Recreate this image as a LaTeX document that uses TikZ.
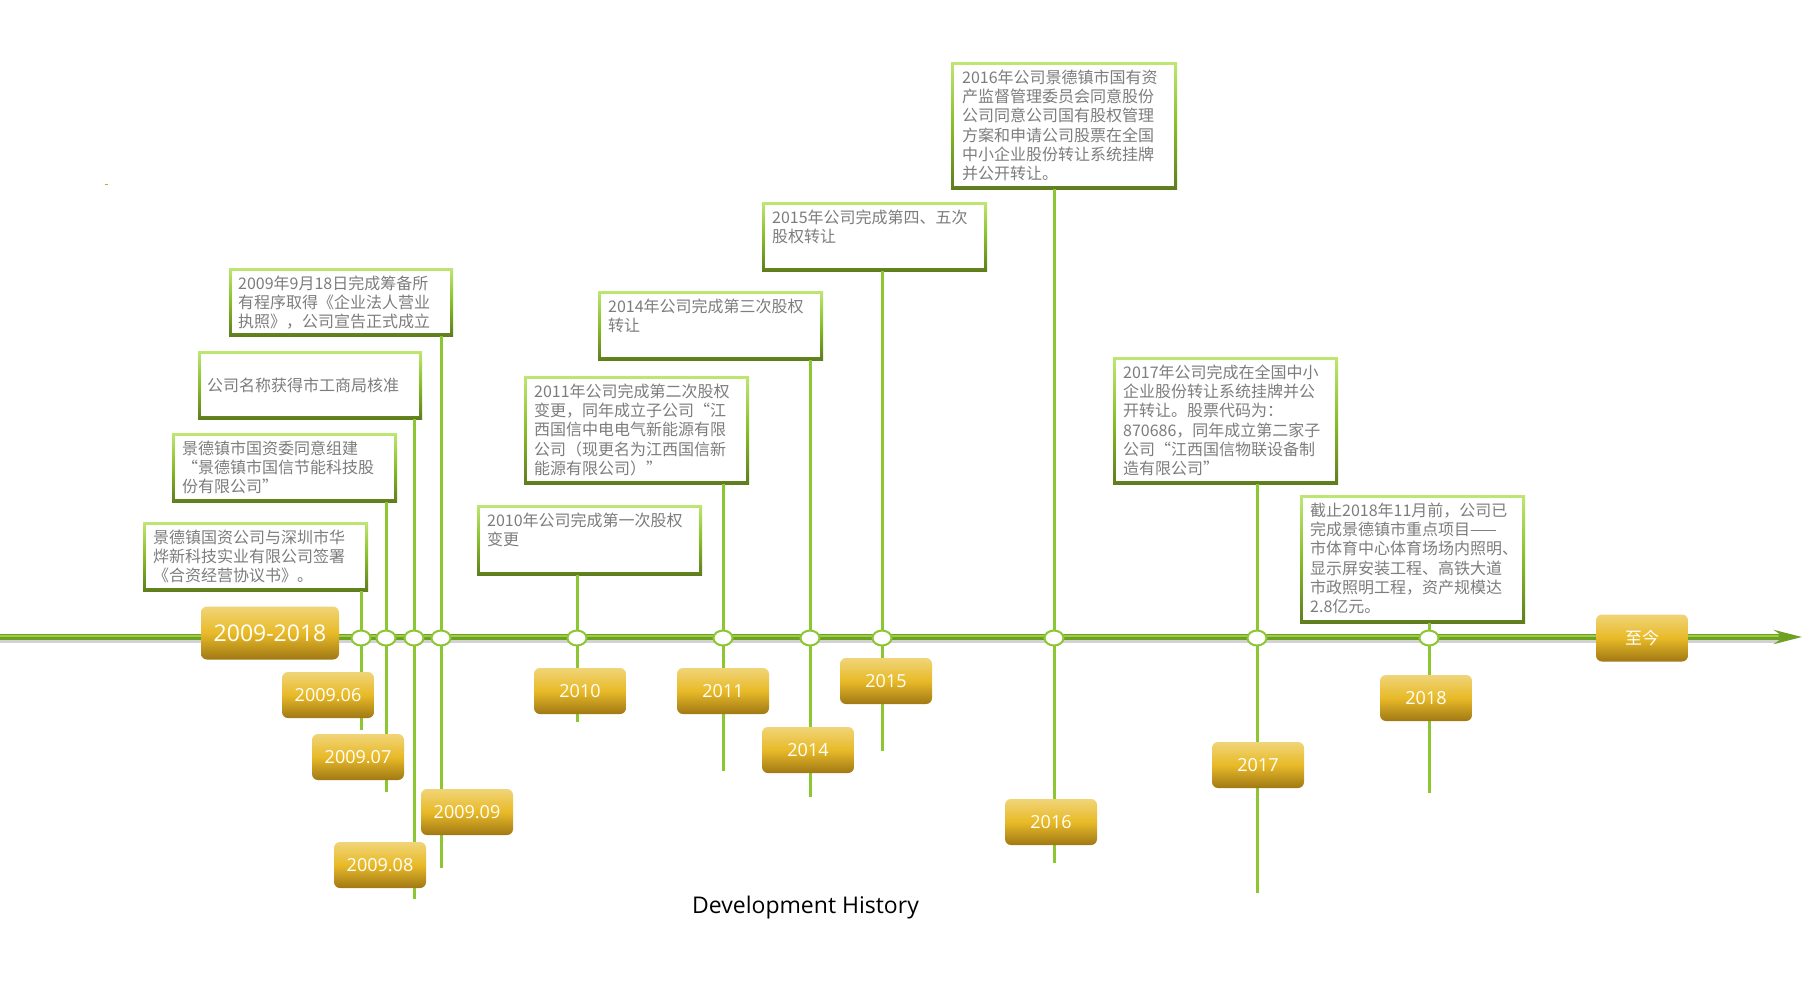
\documentclass[tikz,border=0pt]{standalone}
\usepackage{fontspec}
\setmainfont{Open Sans}
\newfontfamily\cjk{Noto Sans CJK SC}
\usetikzlibrary{arrows.meta,shapes.geometric}
\definecolor{bxtop}{RGB}{190,230,115}
\definecolor{bxmid}{RGB}{135,190,40}
\definecolor{bxbot}{RGB}{95,125,30}
\definecolor{vline}{RGB}{140,198,50}
\definecolor{txtgray}{RGB}{125,125,125}
\definecolor{gtop}{RGB}{240,212,120}
\definecolor{gmid}{RGB}{232,186,40}
\definecolor{gbot}{RGB}{160,120,20}
\definecolor{axdark}{RGB}{110,160,35}
\definecolor{axlight}{RGB}{155,205,70}
\begin{document}
\begin{tikzpicture}[x=1pt,y=-1pt,
  evbox/.style={rectangle, inner sep=0pt, anchor=north west, minimum width=225pt, minimum height=69pt,
    top color=bxtop, bottom color=bxbot, middle color=bxmid,
    path picture={\fill[white] ([shift={(3pt,3pt)}]path picture bounding box.south west) rectangle ([shift={(-3pt,-3pt)}]path picture bounding box.north east);}},
  evtxt/.style={inner sep=0pt, anchor=north west, align=left, text=txtgray, font=\cjk\fontsize{16}{19.3}\selectfont},
  yl/.style={rectangle, rounded corners=6pt, minimum width=92pt, minimum height=46pt, inner sep=0pt,
    top color=gtop, bottom color=gbot, middle color=gmid, text=white, font=\fontsize{18}{20}\selectfont},
  dot/.style={ellipse, draw=vline, line width=2pt, fill=white, minimum width=19pt, minimum height=15pt, inner sep=0pt},
  vl/.style={draw=vline, line width=3pt},
]
\fill[white] (0,0) rectangle (1802,1002);
\useasboundingbox (0,0) rectangle (1802,1002);

% stray mark
\draw[vline, line width=1pt] (105,184) -- (108,184);

% event boxes
\node[evbox, minimum width=224pt, minimum height=68pt] (bA) at (229,268) {};
\node[evtxt] (tA) at ([shift={(9,7.5)}]bA.north west) {2009年9月18日完成筹备所\\有程序取得《企业法人营业\\执照》，公司宣告正式成立};
\node[evbox, minimum width=224pt, minimum height=68pt] (bB) at (198,351) {};
\node[evtxt, anchor=west] (tB) at ([shift={(9,0)}]bB.west) {公司名称获得市工商局核准};
\node[evbox] (bC) at (172,433) {};
\node[evtxt] (tC) at ([shift={(10,7.5)}]bC.north west) {景德镇市国资委同意组建\\“景德镇市国信节能科技股\\份有限公司”};
\node[evbox] (bD) at (143,522) {};
\node[evtxt] (tD) at ([shift={(10,7.5)}]bD.north west) {景德镇国资公司与深圳市华\\烨新科技实业有限公司签署\\《合资经营协议书》。};
\node[evbox, minimum height=70pt] (b10) at (477,505) {};
\node[evtxt] (t10) at ([shift={(10,7.5)}]b10.north west) {2010年公司完成第一次股权\\变更};
\node[evbox, minimum height=108pt] (b11) at (524,376) {};
\node[evtxt] (t11) at ([shift={(10,7.5)}]b11.north west) {2011年公司完成第二次股权\\变更，同年成立子公司“江\\西国信中电电气新能源有限\\公司（现更名为江西国信新\\能源有限公司）”};
\node[evbox] (b14) at (598,291) {};
\node[evtxt] (t14) at ([shift={(10,7.5)}]b14.north west) {2014年公司完成第三次股权\\转让};
\node[evbox] (b15) at (762,202) {};
\node[evtxt] (t15) at ([shift={(10,7.5)}]b15.north west) {2015年公司完成第四、五次\\股权转让};
\node[evbox, minimum width=226pt, minimum height=127pt] (b16) at (951,62) {};
\node[evtxt] (t16) at ([shift={(11,7.5)}]b16.north west) {2016年公司景德镇市国有资\\产监督管理委员会同意股份\\公司同意公司国有股权管理\\方案和申请公司股票在全国\\中小企业股份转让系统挂牌\\并公开转让。};
\node[evbox, minimum height=127pt] (b17) at (1113,357) {};
\node[evtxt] (t17) at ([shift={(10,7.5)}]b17.north west) {2017年公司完成在全国中小\\企业股份转让系统挂牌并公\\开转让。股票代码为：\\870686，同年成立第二家子\\公司“江西国信物联设备制\\造有限公司”};
\node[evbox, minimum height=128pt] (b18) at (1300,495) {};
\node[evtxt] (t18) at ([shift={(10,7.5)}]b18.north west) {截止2018年11月前，公司已\\完成景德镇市重点项目——\\市体育中心体育场场内照明、\\显示屏安装工程、高铁大道\\市政照明工程，资产规模达\\2.8亿元。};

% positions on the axis
\coordinate (p1) at (361,638);  \coordinate (e1) at (361,730);
\coordinate (p2) at (386,638);  \coordinate (e2) at (386,792);
\coordinate (p3) at (414,638);  \coordinate (e3) at (414,899);
\coordinate (p4) at (441,638);  \coordinate (e4) at (441,868);
\coordinate (p5) at (577,638);  \coordinate (e5) at (577,722);
\coordinate (p6) at (723,638);  \coordinate (e6) at (723,771);
\coordinate (p7) at (810,638);  \coordinate (e7) at (810,797);
\coordinate (p8) at (882,638);  \coordinate (e8) at (882,751);
\coordinate (p9) at (1054,638); \coordinate (e9) at (1054,863);
\coordinate (p10) at (1257,638); \coordinate (e10) at (1257,893);
\coordinate (p11) at (1429,638); \coordinate (e11) at (1429,793);

% vertical connectors
\draw[vl] (bD.south -| p1) -- (e1);
\draw[vl] (bC.south -| p2) -- (e2);
\draw[vl] (bB.south -| p3) -- (e3);
\draw[vl] (bA.south -| p4) -- (e4);
\draw[vl] (b10.south -| p5) -- (e5);
\draw[vl] (b11.south -| p6) -- (e6);
\draw[vl] (b14.south -| p7) -- (e7);
\draw[vl] (b15.south -| p8) -- (e8);
\draw[vl] (b16.south -| p9) -- (e9);
\draw[vl] (b17.south -| p10) -- (e10);
\draw[vl] (b18.south -| p11) -- (e11);

% main axis
\coordinate (axL) at (0,637);
\coordinate (axR) at (1802,637);
\coordinate (axS) at (1778,637);
\draw[black!25, line width=4pt, line cap=round, opacity=.7] ([yshift=-4pt]axL) -- ([yshift=-4pt]axS);
\draw[axdark, line width=6pt, line cap=round, -{Stealth[length=28pt,width=14pt,inset=10pt]}] (axL) -- (axR);
\draw[axlight, line width=2pt, line cap=round] ([yshift=1.2pt]axL) -- ([yshift=1.2pt]axS);

% circles
\foreach \i in {1,...,11} { \node[dot] (c\i) at (p\i) {}; }

% year labels
\node[yl, minimum width=138pt, minimum height=53pt, font=\fontsize{23}{26}\selectfont] (lbig) at (270,633) {2009-2018};
\node[yl] (l1) at (328,695) {2009.06};
\node[yl] (l2) at (358,757) {2009.07};
\node[yl] (l3) at (380,865) {2009.08};
\node[yl] (l4) at (467,812) {2009.09};
\node[yl] (l5) at (580,691) {2010};
\node[yl] (l6) at (723,691) {2011};
\node[yl] (l7) at (808,750) {2014};
\node[yl] (l8) at (886,681) {2015};
\node[yl] (l9) at (1051,822) {2016};
\node[yl] (l10) at (1258,765) {2017};
\node[yl] (l11) at (1426,698) {2018};
\node[yl, minimum height=47pt, font=\cjk\fontsize{17}{20}\selectfont] (lnow) at (1642,638) {至今};

% title
\node[anchor=base, inner sep=0pt, font=\fontsize{23}{26}\selectfont] (title) at (805.5,913) {Development History};
\end{tikzpicture}
\end{document}
